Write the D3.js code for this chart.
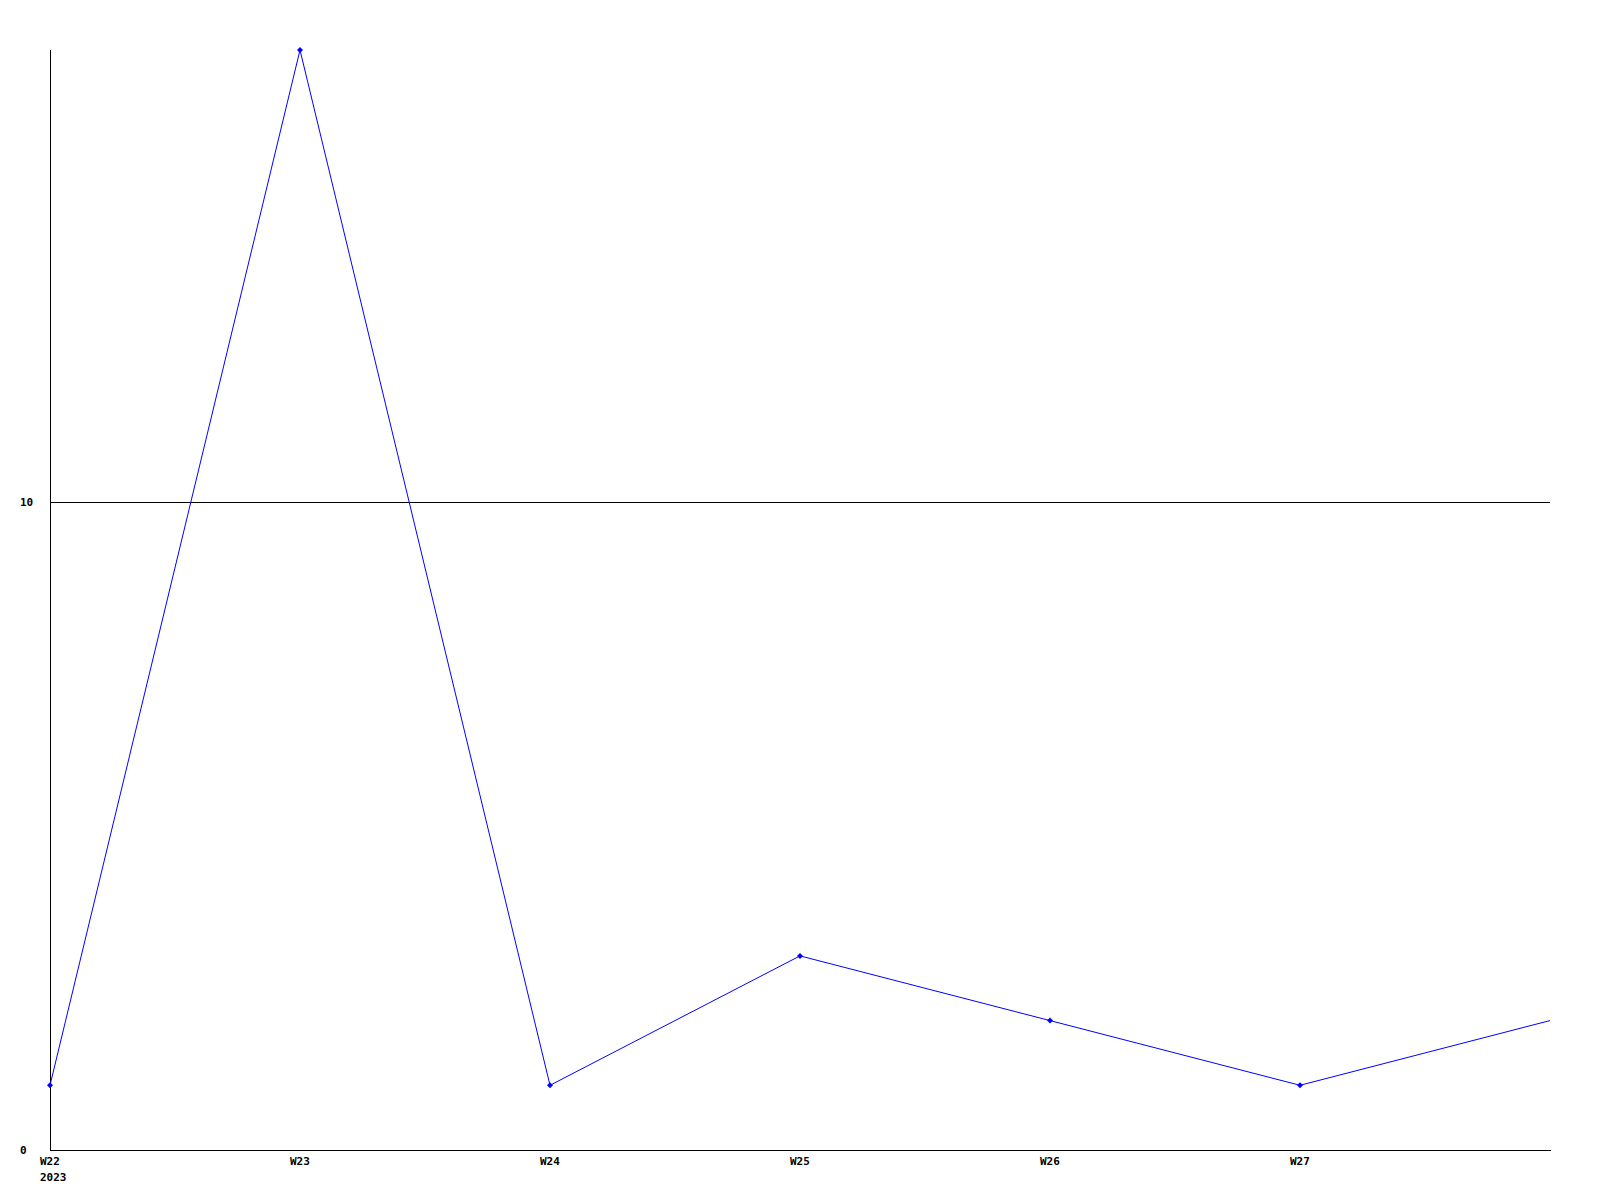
<!DOCTYPE html>
<html><head><meta charset="utf-8">
<script src="https://cdn.jsdelivr.net/npm/d3@7"></script>
<style>html,body{margin:0;padding:0;background:#fff;}svg{display:block;}</style>
</head><body>
<svg id="chart" width="1600" height="1200"></svg>
<script>
const weeks = ["W22","W23","W24","W25","W26","W27","W28"];
const values = [1,17,1,3,2,1,2];
const xTickLabels = ["W22","W23","W24","W25","W26","W27"];
const yearLabel = "2023";
const yTicks = [0,10];

(function(){
const svg = d3.select("#chart");
const mLeft = 50, mRight = 1550, mTop = 50, mBottom = 1150;
const x = d3.scalePoint().domain(weeks).range([mLeft, mRight]);
const y = d3.scaleLinear().domain([0,17]).range([mBottom, mTop]);
const font = "'DejaVu Sans Mono', monospace";

svg.selectAll("line.grid").data(yTicks.filter(d=>d>0)).enter().append("line")
  .attr("x1", mLeft).attr("x2", mRight)
  .attr("y1", d=>Math.floor(y(d))+0.5).attr("y2", d=>Math.floor(y(d))+0.5)
  .attr("stroke","#000").attr("stroke-width",1).attr("shape-rendering","crispEdges");

svg.append("line").attr("x1",mLeft+0.5).attr("x2",mLeft+0.5).attr("y1",mTop).attr("y2",mBottom+0.5)
  .attr("stroke","#000").attr("shape-rendering","crispEdges");
svg.append("line").attr("x1",mLeft).attr("x2",mRight+1).attr("y1",mBottom+0.5).attr("y2",mBottom+0.5)
  .attr("stroke","#000").attr("shape-rendering","crispEdges");

svg.selectAll("text.ylab").data(yTicks).enter().append("text")
  .attr("x",20).attr("y",d=>Math.floor(y(d))+4)
  .attr("font-family",font).attr("font-weight","bold").attr("font-size",11)
  .text(d=>d);

svg.selectAll("text.xlab").data(xTickLabels).enter().append("text")
  .attr("x",d=>x(d)-10).attr("y",mBottom+15)
  .attr("font-family",font).attr("font-weight","bold").attr("font-size",11)
  .text(d=>d);
svg.append("text").attr("x",x(weeks[0])-10).attr("y",mBottom+31)
  .attr("font-family",font).attr("font-weight","bold").attr("font-size",11)
  .text(yearLabel);

const pts = weeks.map((w,i)=>[x(w), y(values[i])]);
svg.append("path").datum(pts)
  .attr("d", d3.line())
  .attr("fill","none").attr("stroke","#0000ff").attr("stroke-width",1);

svg.selectAll("path.mk").data(pts.slice(0, pts.length-1)).enter().append("path")
  .attr("d", d=>`M${d[0]-3},${d[1]}L${d[0]},${d[1]-3}L${d[0]+3},${d[1]}L${d[0]},${d[1]+3}Z`)
  .attr("fill","#0000ff");
})();
</script>
</body></html>
